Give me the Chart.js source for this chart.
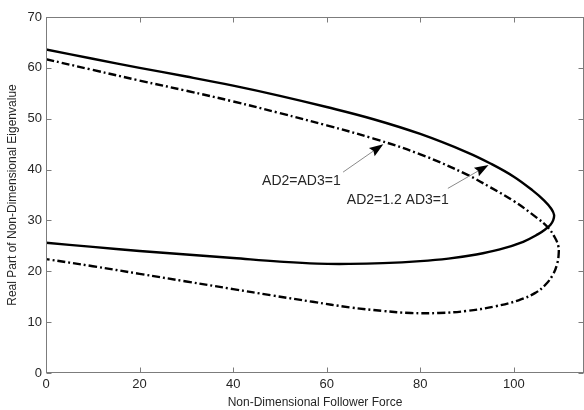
<!DOCTYPE html>
<html>
<head>
<meta charset="utf-8">
<script src="https://cdn.jsdelivr.net/npm/chart.js@4.4.1/dist/chart.umd.min.js"></script>
<style>
  html, body { margin: 0; padding: 0; background: #fff; }
  canvas { display: block; }
</style>
</head>
<body>
<canvas id="myChart" width="584" height="410"></canvas>
<script>
// Curve for AD2=1.2 AD3=1 (solid): upper branch, round the nose, lower branch back to 0
const solidForce = [0, 10, 20, 30, 40, 50, 60, 70, 80, 90, 95, 100, 104, 106.5, 108, 108.6, 108.4, 107.8, 106.8, 105.2, 102, 97, 92, 86, 80, 72, 65, 58, 50, 40, 30, 20, 10, 0];
const solidReal  = [63.6, 61.8, 60.0, 58.3, 56.5, 54.5, 52.3, 49.9, 47.0, 43.4, 41.2, 38.6, 35.9, 33.9, 32.3, 31.1, 30.0, 29.1, 28.3, 27.3, 25.8, 24.3, 23.3, 22.5, 22.0, 21.6, 21.45, 21.5, 21.9, 22.6, 23.3, 24.0, 24.8, 25.6];

// Curve for AD2=AD3=1 (dash-dot)
const dashForce = [0, 10, 20, 30, 40, 50, 60, 70, 80, 90, 95, 100, 104.8, 107.3, 108.8, 109.5, 109.6, 109.3, 108.4, 106.8, 104.5, 101, 96, 90, 84, 78, 72, 65, 57, 48, 40, 30, 20, 10, 0];
const dashReal  = [61.7, 59.6, 57.5, 55.5, 53.4, 51.1, 48.7, 46.1, 43.0, 39.0, 36.5, 33.8, 30.6, 28.6, 26.6, 25.0, 23.6, 21.6, 19.4, 17.4, 15.7, 14.3, 13.1, 12.2, 11.8, 11.8, 12.2, 12.9, 14.0, 15.3, 16.5, 18.0, 19.5, 21.0, 22.4];

// annotation labels and arrows (data coordinates)
const labelText = ['AD2=AD3=1', 'AD2=1.2 AD3=1'];
const labelX    = [63.0, 75.2];
const labelY    = [37.7, 34.0];
const labelAlign = ['right', 'center'];
const arrowFromX = [63.5, 85.9];
const arrowFromY = [39.5, 36.3];
const arrowToX   = [72.1, 94.6];
const arrowToY   = [45.0, 40.9];

const TEXT = '#262626';
const AXIS = '#7c7c7c';

const pts = (xs, ys) => xs.map((x, i) => ({ x: x, y: ys[i] }));

// box round the plot with inward ticks on all four sides
const frame = {
    id: 'frame',
    afterDatasetsDraw(chart) {
        const { ctx, chartArea: a, scales } = chart;
        const L = a.left + 0.5, R = a.right - 0.5, T = a.top + 0.5, B = a.bottom - 0.5;
        ctx.save();
        ctx.strokeStyle = AXIS;
        ctx.lineWidth = 1;
        ctx.strokeRect(L, T, R - L, B - T);
        ctx.beginPath();
        scales.x.ticks.forEach(t => {
            const px = Math.round(scales.x.getPixelForValue(t.value)) + 0.5;
            ctx.moveTo(px, B); ctx.lineTo(px, B - 5);
            ctx.moveTo(px, T); ctx.lineTo(px, T + 5);
        });
        scales.y.ticks.forEach(t => {
            const py = Math.round(scales.y.getPixelForValue(t.value)) + 0.5;
            ctx.moveTo(L, py); ctx.lineTo(L + 5, py);
            ctx.moveTo(R, py); ctx.lineTo(R - 5, py);
        });
        ctx.stroke();
        ctx.restore();
    }
};

// arrows and their labels
const notes = {
    id: 'notes',
    afterDatasetsDraw(chart) {
        const { ctx, scales } = chart;
        ctx.save();
        for (let i = 0; i < labelText.length; i++) {
            const x0 = scales.x.getPixelForValue(arrowFromX[i]);
            const y0 = scales.y.getPixelForValue(arrowFromY[i]);
            const x1 = scales.x.getPixelForValue(arrowToX[i]);
            const y1 = scales.y.getPixelForValue(arrowToY[i]);
            const ang = Math.atan2(y1 - y0, x1 - x0);
            const len = 12, half = 5;
            const bx = x1 - len * Math.cos(ang), by = y1 - len * Math.sin(ang);
            ctx.strokeStyle = '#8a8a8a';
            ctx.lineWidth = 1;
            ctx.beginPath();
            ctx.moveTo(x0, y0);
            ctx.lineTo(bx, by);
            ctx.stroke();
            // notched head
            const nx = -Math.sin(ang), ny = Math.cos(ang);
            const back = x1 - (len + 2) * Math.cos(ang), backY = y1 - (len + 2) * Math.sin(ang);
            ctx.fillStyle = '#000';
            ctx.beginPath();
            ctx.moveTo(x1, y1);
            ctx.lineTo(back + nx * half, backY + ny * half);
            ctx.lineTo(bx, by);
            ctx.lineTo(back - nx * half, backY - ny * half);
            ctx.closePath();
            ctx.fill();

            ctx.fillStyle = TEXT;
            ctx.font = '14px "Liberation Sans", Arial, sans-serif';
            ctx.textAlign = labelAlign[i];
            ctx.textBaseline = 'middle';
            ctx.fillText(labelText[i], scales.x.getPixelForValue(labelX[i]), scales.y.getPixelForValue(labelY[i]));
        }
        ctx.restore();
    }
};

window.addEventListener('DOMContentLoaded', event => {
    const ctx = document.getElementById('myChart');
    new Chart(ctx, {
        type: 'scatter',
        data: {
            datasets: [{
                label: 'AD2=1.2 AD3=1',
                data: pts(solidForce, solidReal),
                showLine: true,
                borderColor: '#000',
                borderWidth: 2.4,
                pointRadius: 0,
                tension: 0.4,
                fill: false
            }, {
                label: 'AD2=AD3=1',
                data: pts(dashForce, dashReal),
                showLine: true,
                borderColor: '#000',
                borderWidth: 2.4,
                borderDash: [8, 3, 2, 3],
                pointRadius: 0,
                tension: 0.4,
                fill: false
            }]
        },
        options: {
            responsive: false,
            animation: false,
            layout: { padding: { top: 17, right: 0, left: 0, bottom: 0 } },
            plugins: {
                legend: { display: false },
                tooltip: { enabled: false }
            },
            scales: {
                x: {
                    type: 'linear',
                    min: 0,
                    max: 115,
                    grid: { display: false, drawTicks: false },
                    border: { display: false },
                    afterBuildTicks: s => { s.ticks = s.ticks.filter(t => t.value % 20 === 0); },
                    afterFit: s => { s.height = 37; },
                    ticks: {
                        stepSize: 20,
                        padding: 4,
                        color: TEXT,
                        font: { family: '"Liberation Sans", Arial, sans-serif', size: 13 }
                    },
                    title: {
                        display: true,
                        text: 'Non-Dimensional Follower Force',
                        color: TEXT,
                        padding: { top: 0, bottom: 0 },
                        font: { family: '"Liberation Sans", Arial, sans-serif', size: 12 }
                    }
                },
                y: {
                    type: 'linear',
                    min: 0,
                    max: 70,
                    grid: { display: false, drawTicks: false },
                    border: { display: false },
                    afterFit: s => { s.width = 46; },
                    ticks: {
                        stepSize: 10,
                        padding: 4,
                        color: TEXT,
                        font: { family: '"Liberation Sans", Arial, sans-serif', size: 13 }
                    },
                    title: {
                        display: true,
                        text: 'Real Part of Non-Dimensional Eigenvalue',
                        color: TEXT,
                        padding: { top: 5, bottom: 0 },
                        font: { family: '"Liberation Sans", Arial, sans-serif', size: 12 }
                    }
                }
            }
        },
        plugins: [frame, notes]
    });
});
</script>
</body>
</html>
